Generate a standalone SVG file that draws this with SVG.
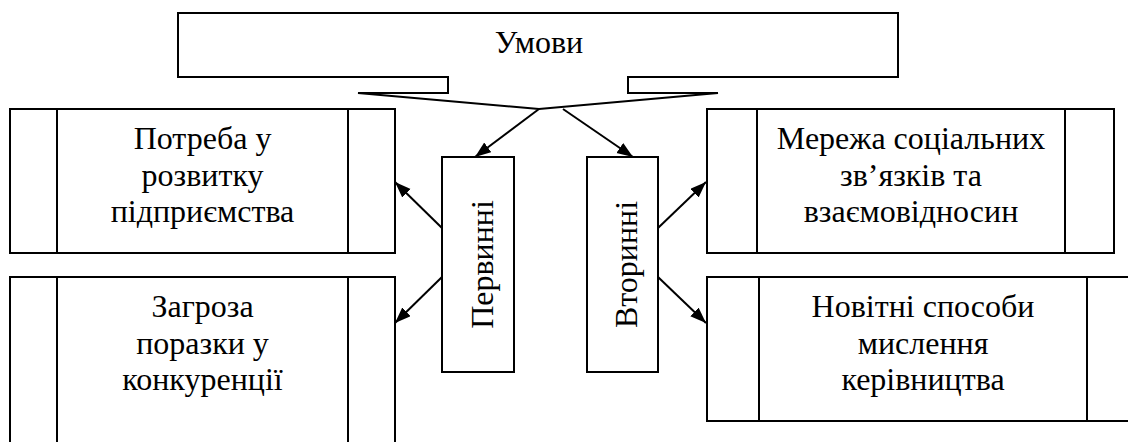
<svg xmlns="http://www.w3.org/2000/svg" width="1128" height="442" viewBox="0 0 1128 442">
<defs>
<style>
.box{fill:#fff;stroke:#000;stroke-width:2}
.ln{fill:none;stroke:#000;stroke-width:2}
.t{font-family:'Liberation Serif',serif;font-size:32px;fill:#000;text-anchor:middle}
</style>
<marker id="ah" markerUnits="userSpaceOnUse" markerWidth="18" markerHeight="14" refX="16" refY="6" orient="auto">
<path d="M0,0 L16,6 L0,12 Z" fill="#000"/>
</marker>
</defs>
<rect width="1128" height="442" fill="#fff"/>
<g font-family="Liberation Serif, serif">
<g id="umovy">
<polygon class="box" points="178,13 898,13 898,77 628,77 628,93 718,93 539,109 358,93 448,93 448,77 178,77"/>
<text class="t" x="539" y="53">Умови</text>
</g>
<g id="potreba">
<rect class="box" x="10" y="109" width="385" height="144"/>
<line class="ln" x1="57" y1="109" x2="57" y2="253"/>
<line class="ln" x1="348" y1="109" x2="348" y2="253"/>
<text class="t" x="202.5" y="149">Потреба у</text>
<text class="t" x="202.5" y="185.5">розвитку</text>
<text class="t" x="202.5" y="222">підприємства</text>
</g>
<g id="zagroza">
<rect class="box" x="10" y="277" width="385" height="200"/>
<line class="ln" x1="57" y1="277" x2="57" y2="477"/>
<line class="ln" x1="348" y1="277" x2="348" y2="477"/>
<text class="t" x="202.5" y="317">Загроза</text>
<text class="t" x="202.5" y="353.5">поразки у</text>
<text class="t" x="202.5" y="390">конкуренції</text>
</g>
<g id="merezha">
<rect class="box" x="707" y="109" width="407" height="144"/>
<line class="ln" x1="757" y1="109" x2="757" y2="253"/>
<line class="ln" x1="1065" y1="109" x2="1065" y2="253"/>
<text class="t" x="911" y="149">Мережа соціальних</text>
<text class="t" x="911" y="185.5">зв’язків та</text>
<text class="t" x="911" y="222">взаємовідносин</text>
</g>
<g id="novitni">
<rect class="box" x="707" y="277" width="440" height="144"/>
<line class="ln" x1="759" y1="277" x2="759" y2="421"/>
<line class="ln" x1="1087" y1="277" x2="1087" y2="421"/>
<text class="t" x="923" y="317">Новітні способи</text>
<text class="t" x="923" y="353.5">мислення</text>
<text class="t" x="923" y="390">керівництва</text>
</g>
<g id="pervynni">
<rect class="box" x="442" y="157" width="72" height="215"/>
<text class="t" transform="translate(493,264.5) rotate(-90)">Первинні</text>
</g>
<g id="vtorynni">
<rect class="box" x="587" y="157" width="71" height="215"/>
<text class="t" transform="translate(637,264.5) rotate(-90)">Вторинні</text>
</g>
</g>
<g id="connectors">
<line class="ln" x1="539" y1="109" x2="475" y2="157" marker-end="url(#ah)"/>
<line class="ln" x1="563" y1="109" x2="633" y2="157" marker-end="url(#ah)"/>
<line class="ln" x1="442" y1="228" x2="395" y2="182" marker-end="url(#ah)"/>
<line class="ln" x1="442" y1="277" x2="395" y2="323" marker-end="url(#ah)"/>
<line class="ln" x1="658" y1="228" x2="706" y2="182" marker-end="url(#ah)"/>
<line class="ln" x1="658" y1="277" x2="706" y2="323" marker-end="url(#ah)"/>
</g>
</svg>
